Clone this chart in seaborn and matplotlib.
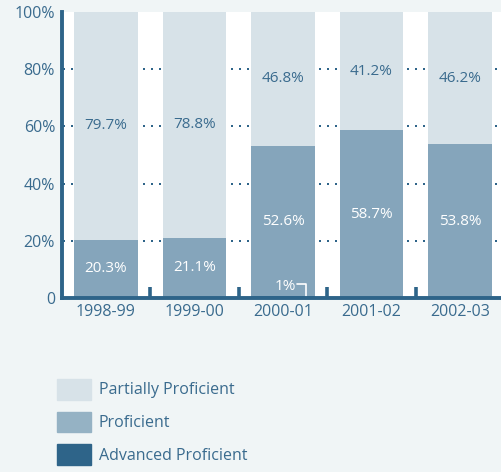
import matplotlib
matplotlib.use("Agg")
import matplotlib.pyplot as plt
from matplotlib.patches import Patch
import seaborn as sns
import pandas as pd

years = ["1998-99", "1999-00", "2000-01", "2001-02", "2002-03"]
advanced = [0.0, 0.0, 0.6, 0.0, 0.0]
proficient = [20.3, 21.1, 52.6, 58.7, 53.8]
partial = [79.7, 78.8, 46.8, 41.2, 46.2]
y_ticks = [0, 20, 40, 60, 80, 100]
y_labels = ["0", "20%", "40%", "60%", "80%", "100%"]
grid_vals = [20, 40, 60, 80]

BG = "#f0f5f6"
C_PART = "#d7e2e8"
C_PROF = "#85a5bb"
C_ADV = "#2e6489"
TXT = "#3a6b8e"

sns.set_theme(style="white")
plt.rcParams["font.family"] = ["Open Sans", "DejaVu Sans"]

df = pd.DataFrame({"year": years, "adv": advanced, "prof": proficient, "part": partial})
df["base_prof"] = df["adv"]
df["base_part"] = df["adv"] + df["prof"]

fig = plt.figure(figsize=(5.02, 4.72), dpi=100, facecolor=BG)
ax = fig.add_axes([62 / 502, 1 - 298 / 472, 440 / 502, 286 / 472])
ax.set_facecolor("white")

w = 0.72
bar_kw = dict(width=w, saturation=1, ax=ax, zorder=2, linewidth=0, edgecolor="none")
sns.barplot(data=df, x="year", y="adv", color=C_ADV, **bar_kw)
sns.barplot(data=df, x="year", y="prof", bottom=df["base_prof"], color=C_PROF, **bar_kw)
sns.barplot(data=df, x="year", y="part", bottom=df["base_part"], color=C_PART, **bar_kw)

# dotted guides, only visible in the gaps between bars (8px period)
for g in grid_vals:
    ax.axhline(g, color=C_ADV, lw=1.44, ls=(3.5, (1, 3)), zorder=0)

# segment labels
for i in range(len(years)):
    ax.text(i, df["base_prof"][i] + proficient[i] / 2, f"{proficient[i]}%", ha="center", va="center",
            color="white", fontsize=11, zorder=3)
    ax.text(i, df["base_part"][i] + partial[i] / 2, f"{partial[i]}%", ha="center", va="center",
            color=TXT, fontsize=11, zorder=3)

# small advanced label for 2000-01
ax.text(2.03, 4.0, f"{round(advanced[2])}%", ha="center", va="center", color="white", fontsize=11, zorder=3)
ax.plot([2.155, 2.255, 2.255], [4.9, 4.9, 0.8], color="white", lw=1.2, zorder=3)

ax.set_xlim(-0.497, 4.475)
ax.set_ylim(0, 100)
ax.set_yticks(y_ticks)
ax.set_yticklabels(y_labels)
ax.set_xlabel("")
ax.set_ylabel("")
ax.set_xticks(range(len(years)))
ax.set_xticklabels(years)
ax.set_xticks([0.5, 1.5, 2.5, 3.5], minor=True)
ax.tick_params(axis="both", which="major", length=0, labelsize=11.5, labelcolor=TXT, pad=5)
ax.tick_params(axis="x", which="minor", bottom=True, direction="in", length=8, width=2.6, color=C_ADV)
ax.tick_params(axis="x", which="major", pad=4)

for s in ["top", "right"]:
    ax.spines[s].set_visible(False)
for s in ["left", "bottom"]:
    ax.spines[s].set_color(C_ADV)
    ax.spines[s].set_linewidth(2.8)
    ax.spines[s].set_zorder(4)

handles = [Patch(color=C_PART, label="Partially Proficient"),
           Patch(color="#95b2c4", label="Proficient"),
           Patch(color=C_ADV, label="Advanced Proficient")]
fig.legend(handles=handles, loc="upper left", bbox_to_anchor=(57 / 502, 1 - 379 / 472),
           frameon=False, fontsize=11.5, handlelength=2.1, handleheight=1.6,
           labelspacing=0.75, handletextpad=0.5, borderpad=0, borderaxespad=0,
           labelcolor=TXT)

fig.savefig("out.png", dpi=100, facecolor=BG)
